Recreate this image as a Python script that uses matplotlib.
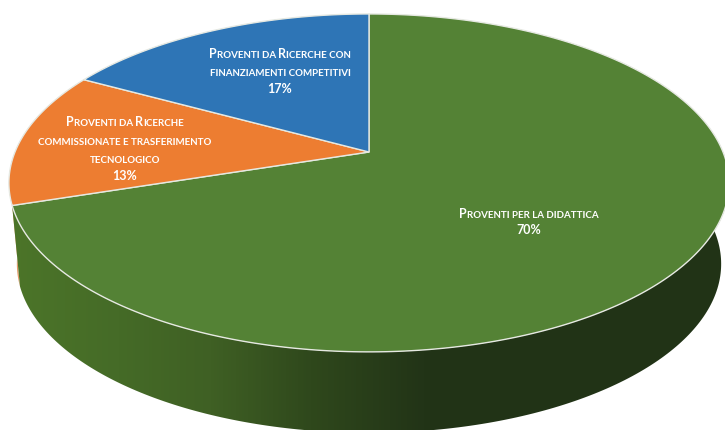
import numpy as np
import matplotlib
matplotlib.use('Agg')
import matplotlib.pyplot as plt
from matplotlib.colors import LinearSegmentedColormap
from matplotlib.patches import Polygon

plt.rcParams['font.family'] = ['Lato', 'DejaVu Sans']

values = [70, 13, 17]
colors = ['#548235', '#ED7D31', '#2E75B6']
labels = [
    ['Proventi per la didattica'],
    ['Proventi da Ricerche', 'commissionate e trasferimento', 'tecnologico'],
    ['Proventi da Ricerche con', 'finanziamenti competitivi'],
]
label_pos = [(529, 214.5), (125, 123.5), (280, 54.5)]

# parametri della prospettiva, in pixel
cx, cy = 369, 152
rx, ry, k = 354, 163.3, 0.183
depth, shrink = 81, 0.978
line_h = 18.2


def rim(theta, dy=0, sx=1.0):
    # theta in gradi, da ore 12 in senso orario
    t = np.radians(theta)
    u, v = np.sin(t), np.cos(t)
    w = 1 + k * v
    return np.column_stack([cx + sx * rx * u / w, cy + dy - ry * v / w])


def small_caps(ax, x, y, text, big=9.0, small=7.05):
    # maiuscoletto: spezza la riga in pezzi e centra il totale
    runs = []
    for ch in text:
        up = ch.isupper() or ch.isdigit()
        if runs and runs[-1][1] == up:
            runs[-1][0] += ch
        else:
            runs.append([ch, up])
    r = ax.figure.canvas.get_renderer()
    items = []
    total = 0
    for s, up in runs:
        t = ax.text(0, y, s.upper(), fontsize=big if up else small, color='white',
                    fontweight='bold', ha='left', va='baseline', zorder=10)
        w = t.get_window_extent(r).width
        items.append((t, total))
        total += w
    for t, off in items:
        t.set_x(x - total / 2 + off)


fig = plt.figure(figsize=(7.25, 4.3), dpi=100)
ax = fig.add_axes([0, 0, 1, 1])
ax.set_axis_off()

# fianco del disco: prima arancione (sotto), poi verde con gradiente
shares = np.cumsum([0] + values) / sum(values) * 360

th = np.linspace(shares[1], shares[2], 80)
side_o = np.vstack([rim(th), rim(th[::-1], depth, shrink)])
ax.add_patch(Polygon(side_o, closed=True, fc='#E59A68', ec='none', zorder=1))

th = np.linspace(shares[0], shares[1], 300)
side_g = np.vstack([rim(th), rim(th[::-1], depth, shrink)])
clip = Polygon(side_g, closed=True, fc='none', ec='none', zorder=2)
ax.add_patch(clip)
side_cmap = LinearSegmentedColormap.from_list('side', [
    (0.0, '#4C7529'), (0.15, '#456B27'), (0.28, '#3F6024'),
    (0.42, '#2F481C'), (0.58, '#223417'), (1.0, '#213316')])
grad = ax.imshow(np.linspace(0, 1, 512).reshape(1, -1), cmap=side_cmap, aspect='auto',
                 extent=(10, 725, 430, 150), zorder=2)
grad.set_clip_path(clip)

# faccia superiore
for i in range(len(values)):
    th = np.linspace(shares[i], shares[i + 1], 300)
    pts = np.vstack([[cx, cy], rim(th)])
    ax.add_patch(Polygon(pts, closed=True, fc=colors[i], ec='#E6E9E2', lw=1.0, zorder=3))

ax.set_xlim(0, 725)
ax.set_ylim(430, 0)

fig.canvas.draw()
for lines, (x, y), v in zip(labels, label_pos, values):
    for j, line in enumerate(lines):
        small_caps(ax, x, y + 3 + j * line_h, line)
    ax.text(x, y + 3 + (len(lines) - 1) * line_h + 17, f'{v}%', fontsize=9, color='white',
            fontweight='bold', ha='center', va='baseline', zorder=10)

fig.savefig('out.png', dpi=100)
plt.close()
